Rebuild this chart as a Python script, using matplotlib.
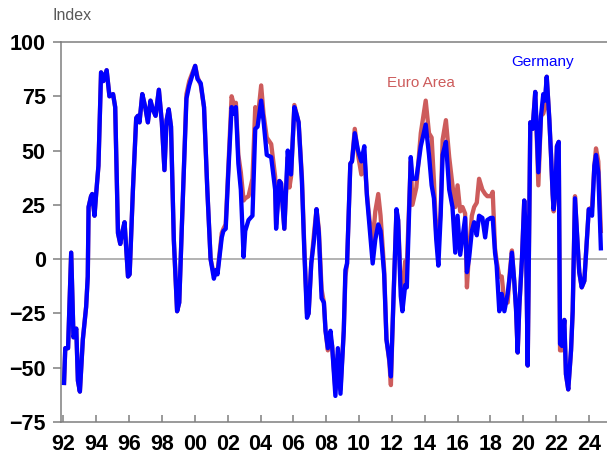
import matplotlib.pyplot as plt

# decimal years of the turning points
years = [
    1992.03, 1992.11, 1992.28, 1992.47, 1992.61, 1992.78, 1992.88, 1993.00, 1993.18, 1993.38,
    1993.48, 1993.53, 1993.68, 1993.75, 1993.89, 1993.99, 1994.13, 1994.29, 1994.43, 1994.63,
    1994.80, 1995.02, 1995.15, 1995.32, 1995.46, 1995.57, 1995.72, 1995.93, 1996.03, 1996.23,
    1996.43, 1996.53, 1996.63, 1996.80, 1996.98, 1997.14, 1997.30, 1997.44, 1997.61, 1997.81,
    1997.99, 1998.15, 1998.28, 1998.41, 1998.55, 1998.72, 1998.92, 1999.05, 1999.25, 1999.49,
    1999.66, 1999.86, 2000.02, 2000.16, 2000.36, 2000.56, 2000.76, 2000.96, 2001.16, 2001.29,
    2001.38, 2001.64, 2001.74, 2001.88, 2002.04, 2002.24, 2002.38, 2002.50, 2002.65, 2002.80,
    2002.97, 2003.07, 2003.27, 2003.51, 2003.68, 2003.82, 2004.04, 2004.18, 2004.38, 2004.65,
    2004.89, 2004.95, 2005.15, 2005.25, 2005.45, 2005.66, 2005.76, 2005.86, 2006.06, 2006.22,
    2006.32, 2006.52, 2006.67, 2006.83, 2006.93, 2007.09, 2007.26, 2007.41, 2007.55, 2007.72,
    2007.86, 2007.96, 2008.10, 2008.26, 2008.36, 2008.56, 2008.71, 2008.87, 2009.07, 2009.17,
    2009.27, 2009.47, 2009.57, 2009.74, 2009.94, 2010.14, 2010.32, 2010.48, 2010.64, 2010.83,
    2010.99, 2011.17, 2011.31, 2011.53, 2011.67, 2011.84, 2011.94, 2012.08, 2012.28, 2012.38,
    2012.54, 2012.64, 2012.81, 2012.91, 2013.15, 2013.25, 2013.49, 2013.76, 2014.06, 2014.26,
    2014.42, 2014.56, 2014.70, 2014.83, 2014.97, 2015.09, 2015.29, 2015.49, 2015.69, 2015.86,
    2016.00, 2016.16, 2016.30, 2016.46, 2016.57, 2016.71, 2016.87, 2017.01, 2017.17, 2017.31,
    2017.51, 2017.68, 2017.81, 2018.02, 2018.14, 2018.28, 2018.38, 2018.54, 2018.69, 2018.85,
    2019.05, 2019.19, 2019.31, 2019.45, 2019.56, 2019.66, 2019.76, 2019.92, 2020.06, 2020.17,
    2020.27, 2020.43, 2020.57, 2020.73, 2020.92, 2021.08, 2021.22, 2021.32, 2021.43, 2021.59,
    2021.69, 2021.79, 2021.85, 2021.95, 2022.05, 2022.16, 2022.24, 2022.36, 2022.50, 2022.60,
    2022.74, 2022.91, 2023.01, 2023.15, 2023.27, 2023.41, 2023.56, 2023.72, 2023.88, 2023.99,
    2024.19, 2024.33, 2024.43, 2024.57, 2024.73,
]

germany = [
    -58, -41, -41, 3, -36, -32, -56, -61, -37, -22,
    -8, 24, 29, 30, 20, 30, 43, 86, 82, 87,
    75, 76, 70, 12, 7, 12, 17, -8, -7, 32,
    65, 66, 63, 76, 70, 63, 73, 69, 66, 78,
    63, 41, 64, 69, 61, 9, -24, -20, 24, 74,
    80, 85, 89, 83, 81, 70, 32, 0, -9, -5,
    -7, 10, 13, 14, 40, 70, 67, 70, 44, 32,
    1, 13, 18, 20, 60, 61, 73, 64, 48, 47,
    32, 14, 36, 35, 14, 50, 40, 39, 70, 66,
    63, 36, 3, -27, -25, -2, 9, 23, 12, -18,
    -20, -33, -41, -33, -40, -63, -41, -62, -33, -5,
    -2, 44, 45, 58, 50, 45, 52, 29, 15, -2,
    9, 16, 13, -7, -37, -46, -54, -22, 23, 18,
    -17, -24, -12, -13, 47, 37, 37, 52, 62, 48,
    34, 28, 9, -3, 20, 48, 54, 32, 24, 3,
    20, 2, 10, 19, -6, 1, 13, 17, 11, 20,
    19, 10, 18, 19, 19, 3, -3, -24, -16, -24,
    -16, -7, 3, -10, -23, -43, -22, 0, 27, 9,
    -49, 63, 60, 77, 40, 66, 76, 73, 84, 64,
    48, 30, 23, 30, 52, 54, -39, -40, -28, -53,
    -60, -42, -24, 28, 12, -6, -13, -10, 10, 23,
    20, 43, 48, 40, 4,
]

euro_area = [
    -58, -41, -41, 3, -36, -32, -56, -61, -37, -22,
    -8, 24, 29, 30, 20, 30, 43, 86, 82, 87,
    75, 76, 70, 12, 7, 12, 17, -8, -7, 32,
    65, 66, 63, 76, 70, 63, 73, 69, 66, 78,
    63, 41, 64, 69, 61, 9, -24, -20, 24, 76,
    82, 86, 89, 84, 80, 70, 32, 0, -7, -5,
    -6, 12, 14, 16, 42, 75, 71, 72, 48, 40,
    27, 28, 29, 37, 70, 64, 80, 67, 56, 53,
    38, 16, 36, 35, 14, 47, 33, 38, 71, 66,
    63, 38, 5, -25, -25, -2, 12, 23, 14, -14,
    -20, -33, -42, -36, -40, -60, -44, -60, -33, -8,
    -2, 44, 45, 60, 48, 39, 48, 30, 18, 8,
    22, 30, 20, -5, -37, -47, -58, -22, 22, 18,
    -12, -20, -1, -3, 45, 25, 33, 58, 73, 58,
    56, 36, 12, 8, 22, 55, 64, 47, 34, 24,
    34, 22, 24, 21, -13, 5, 20, 24, 26, 37,
    32, 30, 29, 29, 31, 5, -1, -8, -8, -20,
    -20, -5, 4, -10, -23, -43, -22, 0, 27, 9,
    -49, 63, 60, 77, 34, 66, 67, 70, 84, 64,
    48, 30, 22, 30, 52, 54, -42, -42, -28, -53,
    -60, -42, -24, 29, 12, -6, -13, -10, 10, 23,
    24, 43, 51, 45, 12,
]

y_ticks = [-75, -50, -25, 0, 25, 50, 75, 100]
x_ticks = list(range(1992, 2025, 2))
x_labels = [f"{y % 100:02d}" for y in x_ticks]

fig = plt.figure(figsize=(6.07, 4.57), dpi=100)
ax = fig.add_axes([61 / 607, 35 / 457, 546 / 607, 380 / 457])

ax.axhline(0, color='#a6a6a6', lw=1.2, zorder=1)
ax.plot(years, euro_area, color='#cd5c5c', lw=3.1, zorder=2,
        solid_joinstyle='round', solid_capstyle='butt')
ax.plot(years, germany, color='#0000ff', lw=3.1, zorder=3,
        solid_joinstyle='round', solid_capstyle='butt')

ax.text(2013.75, 81, 'Euro Area', color='#cd5c5c', fontsize=11,
        family='Liberation Sans', ha='center', va='center')
ax.text(2021.2, 91, 'Germany', color='#0000ff', fontsize=11,
        family='Liberation Sans', ha='center', va='center')

ax.set_xlim(1991.85, 2025.1)
ax.set_ylim(-75, 100)
ax.set_yticks(y_ticks)
ax.set_xticks(x_ticks)
ax.set_xticklabels(x_labels)

for lbl in ax.get_xticklabels() + ax.get_yticklabels():
    lbl.set_family('Liberation Sans')
    lbl.set_fontweight('bold')
    lbl.set_fontsize(15.5)

ax.tick_params(axis='y', direction='out', length=6, width=1.1, color='#7f7f7f', pad=5)
ax.tick_params(axis='x', direction='in', length=5, width=1.1, color='#7f7f7f', pad=9)

for side in ['left', 'bottom', 'top']:
    ax.spines[side].set_color('#7f7f7f')
    ax.spines[side].set_linewidth(1.1)
ax.spines['right'].set_visible(False)

fig.text(52 / 607, 1 - 15 / 457, 'Index', color='#595959', fontsize=11.5,
         family='Liberation Sans', ha='left', va='center')

fig.savefig('out.png', dpi=100)
